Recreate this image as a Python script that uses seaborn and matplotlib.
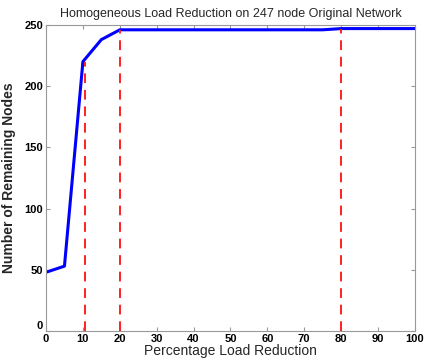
import matplotlib
matplotlib.use('Agg')
import matplotlib.pyplot as plt
import seaborn as sns
import pandas as pd

# percentage load reduction vs remaining nodes
reduction = [0, 5, 10, 15, 20, 25, 30, 35, 40, 45, 50, 55, 60, 65, 70, 75, 80, 85, 90, 95, 100]
remaining = [48, 53, 220, 238, 246, 246, 246, 246, 246, 246, 246, 246, 246, 246, 246, 246, 247, 247, 247, 247, 247]
markers_x = [10.5, 20, 80]
markers_y = [220, 246, 247]

df = pd.DataFrame({'reduction': reduction, 'remaining': remaining})

sns.set_style('white')
plt.rcParams['font.family'] = ['Liberation Sans', 'DejaVu Sans']

fig = plt.figure(figsize=(4.26, 3.61), dpi=100)
ax = fig.add_axes([0.108, 0.083, 0.866, 0.848])

sns.lineplot(data=df, x='reduction', y='remaining', color='#0000ff', linewidth=2.2, ax=ax)
for mx, my in zip(markers_x, markers_y):
    ax.plot([mx, mx], [0, my], color='#ff2020', linestyle=(0, (5, 3.5)), linewidth=1.4, zorder=3)

ax.set_xlim(0, 100)
ax.set_ylim(0, 250)
ax.set_xticks(range(0, 101, 10))
ax.set_yticks(range(0, 251, 50))
for s in ax.spines.values():
    s.set_color('#999999')
    s.set_linewidth(0.8)
ax.tick_params(direction='in', length=3, color='#999999', labelsize=8, labelcolor='black',
               top=True, right=True, bottom=True, left=True)
ax.tick_params(axis='x', pad=2)
ax.tick_params(axis='y', pad=2)
for lab in ax.get_xticklabels() + ax.get_yticklabels():
    lab.set_fontweight('bold')
ax.get_yticklabels()[0].set_verticalalignment('bottom')

ax.set_title('Homogeneous Load Reduction on 247 node Original Network', fontsize=9, pad=6)
ax.set_xlabel('Percentage Load Reduction', fontsize=10, labelpad=0)
ax.set_ylabel('Number of Remaining Nodes', fontsize=10, fontweight='bold', labelpad=6)

fig.savefig('out.png', dpi=100)
